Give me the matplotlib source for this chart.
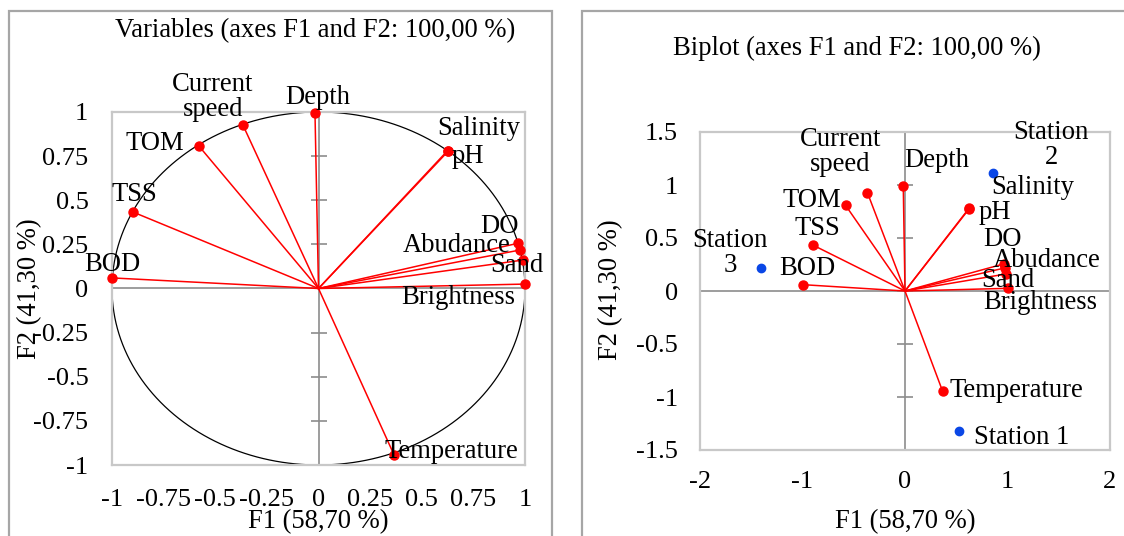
import numpy as np
import matplotlib
matplotlib.use("Agg")
import matplotlib.pyplot as plt
from matplotlib.patches import Rectangle

plt.rcParams['font.family'] = ['Liberation Serif', 'DejaVu Serif']

# ---------------- data ----------------
variables = ['Depth', 'Current\nspeed', 'TOM', 'TSS', 'BOD', 'Salinity', 'pH',
             'DO', 'Abudance', 'Sand', 'Brightness', 'Temperature']
var_f1 = [-0.017, -0.366, -0.579, -0.898, -1.000, 0.628, 0.625,
          0.965, 0.976, 0.989, 1.000, 0.366]
var_f2 = [0.994, 0.926, 0.807, 0.433, 0.060, 0.778, 0.781,
          0.256, 0.218, 0.161, 0.025, -0.943]

stations = ['Station 1', 'Station\n2', 'Station\n3']
obs_f1 = [0.527, 0.859, -1.405]
obs_f2 = [-1.320, 1.113, 0.217]

left_ticks = [-1, -0.75, -0.5, -0.25, 0, 0.25, 0.5, 0.75, 1]
left_ticklabels = ['-1', '-0.75', '-0.5', '-0.25', '0', '0.25', '0.5', '0.75', '1']
right_xticks = [-2, -1, 0, 1, 2]
right_xticklabels = ['-2', '-1', '0', '1', '2']
right_yticks = [-1.5, -1, -0.5, 0, 0.5, 1, 1.5]
right_yticklabels = ['-1.5', '-1', '-0.5', '0', '0.5', '1', '1.5']

title_left = 'Variables (axes F1 and F2: 100,00 %)'
title_right = 'Biplot (axes F1 and F2: 100,00 %)'
xlabel = 'F1 (58,70 %)'
ylabel = 'F2 (41,30 %)'

# label offsets (pixels) -- layout only
left_offsets = [(3, 16), (-30, 28), (-44, 3), (1, 18), (0, 13), (31, 23), (20, -6),
                (-18, 17), (-63, 5), (-6, -5), (-67, -13), (57, 3)]
right_offsets = [(33, 25), (-27, 41), (-34, 5), (4, 17), (5, 16), (63, 21), (26, -4),
                 (-1, 24), (42, 7), (2, -7), (33, -14), (74, 0)]
station_offsets = [(63, -7), (58, 28), (-31, 15)]

W, H = 1124, 536
FS = 19.2
TFS = 19.0
RED = '#ff0000'
BLUE = '#0a47e6'
BOX = '#c8c8c8'
AXC = '#8c8c8c'

fig = plt.figure(figsize=(W / 100, H / 100), dpi=100)
fig.patch.set_facecolor('white')


def px_axes(x0, y0, x1, y1):
    return fig.add_axes([x0 / W, 1 - y1 / H, (x1 - x0) / W, (y1 - y0) / H])


def style(ax, xt, xtl, yt, ytl, xpad, ypad):
    for s in ax.spines.values():
        s.set_color(BOX)
        s.set_linewidth(1.6)
    ax.set_xticks(xt)
    ax.set_xticklabels(xtl)
    ax.set_yticks(yt)
    ax.set_yticklabels(ytl)
    ax.tick_params(axis='x', length=0, pad=xpad, labelsize=TFS)
    ax.tick_params(axis='y', length=0, pad=ypad, labelsize=TFS)
    ax.axhline(0, color=AXC, lw=1.2, zorder=1)
    ax.axvline(0, color=AXC, lw=1.2, zorder=1)
    ax.plot(np.zeros(len(yt)), yt, ls='none', marker='_', ms=11, mew=1.2,
            color=AXC, zorder=1, clip_on=False)


# ---------- frames ----------
fig.add_artist(Rectangle((9 / W, -0.1), (552 - 9) / W, 1.1 - 11 / H,
                         transform=fig.transFigure, fill=False,
                         edgecolor='#a6a6a6', lw=1.6))
fig.add_artist(Rectangle((582 / W, -0.1), (1130 - 582) / W, 1.1 - 11 / H,
                         transform=fig.transFigure, fill=False,
                         edgecolor='#a6a6a6', lw=1.6))

# ---------- left: correlation circle ----------
axL = px_axes(112, 112, 525, 465)
axL.set_xlim(-1, 1)
axL.set_ylim(-1, 1)
style(axL, left_ticks, left_ticklabels, left_ticks, left_ticklabels, 17, 17)
t = np.linspace(0, 2 * np.pi, 400)
axL.plot(np.cos(t), np.sin(t), color='black', lw=0.9, zorder=2, clip_on=False)
for x, y in zip(var_f1, var_f2):
    axL.plot([0, x], [0, y], color=RED, lw=1.1, zorder=3, clip_on=False)
axL.plot(var_f1, var_f2, ls='none', marker='o', ms=6.5, color=RED, zorder=4, clip_on=False)
for name, x, y, (dx, dy) in zip(variables, var_f1, var_f2, left_offsets):
    axL.annotate(name, (x, y), xytext=(dx, dy), textcoords='offset pixels',
                 ha='center', va='center', fontsize=FS, linespacing=1.0, zorder=5,
                 annotation_clip=False)

# ---------- right: biplot ----------
axR = px_axes(700, 132, 1110, 450)
axR.set_xlim(-2, 2)
axR.set_ylim(-1.5, 1.5)
style(axR, right_xticks, right_xticklabels, right_yticks, right_yticklabels, 15, 16)
for x, y in zip(var_f1, var_f2):
    axR.plot([0, x], [0, y], color=RED, lw=1.1, zorder=3)
axR.plot(var_f1, var_f2, ls='none', marker='o', ms=6.5, color=RED, zorder=4)
axR.plot(obs_f1, obs_f2, ls='none', marker='o', ms=6, color=BLUE, zorder=4)
for name, x, y, (dx, dy) in zip(variables, var_f1, var_f2, right_offsets):
    axR.annotate(name, (x, y), xytext=(dx, dy), textcoords='offset pixels',
                 ha='center', va='center', fontsize=FS, linespacing=1.0, zorder=5,
                 annotation_clip=False)
for name, x, y, (dx, dy) in zip(stations, obs_f1, obs_f2, station_offsets):
    axR.annotate(name, (x, y), xytext=(dx, dy), textcoords='offset pixels',
                 ha='center', va='center', fontsize=FS, linespacing=1.0, zorder=5,
                 annotation_clip=False)

# ---------- titles and axis labels ----------
fig.text(315 / W, 1 - 31 / H, title_left, ha='center', va='center', fontsize=FS)
fig.text(857 / W, 1 - 48 / H, title_right, ha='center', va='center', fontsize=FS)
fig.text(318 / W, 1 - 522 / H, xlabel, ha='center', va='center', fontsize=FS)
fig.text(905 / W, 1 - 522 / H, xlabel, ha='center', va='center', fontsize=FS)
fig.text(30 / W, 1 - 289 / H, ylabel, ha='center', va='center', fontsize=FS, rotation=90)
fig.text(611 / W, 1 - 290 / H, ylabel, ha='center', va='center', fontsize=FS, rotation=90)

fig.savefig('out.png', dpi=100, facecolor='white')
